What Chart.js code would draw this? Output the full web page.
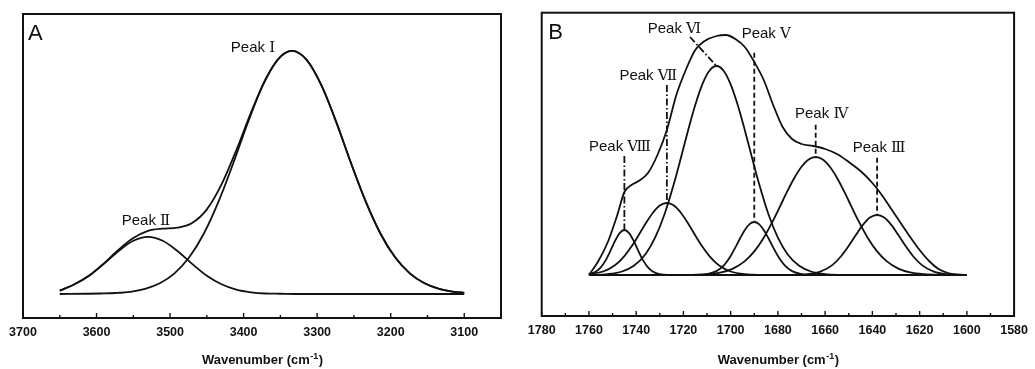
<!DOCTYPE html>
<html>
<head>
<meta charset="utf-8">
<script src="https://cdn.jsdelivr.net/npm/chart.js@4.4.1/dist/chart.umd.min.js"></script>
<style>
  html, body { margin: 0; padding: 0; background: #fff; overflow: hidden; }
  canvas { position: absolute; top: 0; }
</style>
</head>
<body>
<canvas id="chartA" width="520" height="369" style="left:0"></canvas>
<canvas id="chartB" width="515" height="369" style="left:520px"></canvas>
<script>
// ---- Panel A data (O-H / N-H stretch region) ----
const peakIX   = [3650, 3614, 3594, 3574, 3554, 3534, 3514, 3494, 3474, 3454, 3434, 3414, 3394, 3374, 3354, 3334,
                  3314, 3294, 3274, 3254, 3234, 3214, 3194, 3174, 3154, 3134, 3114, 3100];
const peakIY   = [0, 0.001, 0.002, 0.004, 0.009, 0.021, 0.044, 0.085, 0.151, 0.249, 0.381, 0.539, 0.707, 0.857, 0.962, 1.0,
                  0.962, 0.857, 0.707, 0.539, 0.381, 0.249, 0.151, 0.085, 0.044, 0.021, 0.009, 0.005];
const peakIIX  = [3650, 3630, 3610, 3590, 3570, 3550, 3530, 3510, 3490, 3470, 3450, 3430, 3410, 3390, 3370, 3350, 3330, 3100];
const peakIIY  = [0.014, 0.040, 0.075, 0.124, 0.177, 0.219, 0.235, 0.219, 0.177, 0.124, 0.075, 0.040, 0.018, 0.007, 0.002, 0.001, 0, 0];
const sumAX    = [3650, 3630, 3610, 3590, 3570, 3550, 3530, 3510, 3490, 3470, 3450, 3430, 3410, 3390, 3370, 3350, 3334,
                  3314, 3294, 3274, 3254, 3234, 3214, 3194, 3174, 3154, 3134, 3114, 3100];
const sumAY    = [0.014, 0.040, 0.076, 0.126, 0.182, 0.230, 0.260, 0.269, 0.273, 0.292, 0.348, 0.451, 0.591, 0.746, 0.885, 0.977, 1.0,
                  0.962, 0.857, 0.707, 0.539, 0.381, 0.249, 0.151, 0.085, 0.044, 0.021, 0.009, 0.005];
const peakNamesA   = ['Peak Ⅰ', 'Peak Ⅱ'];
const peakCentersA = [3334, 3530];
const peakHeightsA = [1.0, 0.235];

// ---- Panel B data (amide I region) ----
const envBX = [1760, 1756, 1752, 1748, 1745, 1742, 1739, 1735, 1731, 1727, 1723, 1719, 1715, 1711, 1706, 1702, 1698, 1694,
               1690, 1686, 1682, 1678, 1674, 1670, 1665, 1660, 1655, 1650, 1645, 1640, 1636, 1632, 1628, 1624, 1620,
               1616, 1612, 1608, 1604, 1600];
const envBY = [0, 0.14, 0.33, 0.60, 0.83, 0.90, 0.94, 1.02, 1.20, 1.45, 1.80, 2.05, 2.25, 2.34, 2.39, 2.40, 2.36, 2.28,
               2.13, 1.95, 1.70, 1.48, 1.36, 1.31, 1.29, 1.26, 1.21, 1.13, 1.04, 0.92, 0.80, 0.66, 0.52, 0.38, 0.25,
               0.14, 0.06, 0.02, 0.005, 0];
const baseBX = [1760, 1600];
const baseBY = [0, 0];
const p8X = [1760, 1757, 1755, 1753, 1751, 1749, 1747, 1745, 1743, 1741, 1739, 1737, 1735, 1733, 1730, 1725];
const p8Y = [0.008, 0.035, 0.076, 0.144, 0.237, 0.338, 0.419, 0.45, 0.419, 0.338, 0.237, 0.144, 0.076, 0.035, 0.008, 0];
const p7X = [1760, 1754, 1749, 1745, 1742, 1739, 1736, 1733, 1730, 1727, 1724, 1721, 1718, 1715, 1712, 1709, 1705, 1700, 1694, 1685];
const p7Y = [0.008, 0.035, 0.097, 0.189, 0.284, 0.397, 0.515, 0.620, 0.694, 0.72, 0.694, 0.620, 0.515, 0.397, 0.284, 0.189, 0.097, 0.035, 0.008, 0];
const p6X = [1760, 1752, 1746, 1741, 1736, 1732, 1728, 1724, 1721, 1718, 1715, 1712, 1709, 1706, 1703, 1700, 1697, 1694,
             1691, 1688, 1684, 1680, 1676, 1671, 1666, 1660, 1652];
const p6Y = [0, 0.009, 0.035, 0.092, 0.210, 0.373, 0.608, 0.915, 1.177, 1.448, 1.700, 1.907, 2.043, 2.09, 2.043, 1.907, 1.700, 1.448,
             1.177, 0.915, 0.608, 0.373, 0.210, 0.092, 0.035, 0.009, 0];
const p5X = [1715, 1710, 1706, 1703, 1700, 1698, 1696, 1694, 1692, 1690, 1688, 1686, 1684, 1682, 1680, 1677, 1674, 1670, 1665];
const p5Y = [0, 0.009, 0.039, 0.094, 0.191, 0.276, 0.367, 0.450, 0.509, 0.53, 0.509, 0.450, 0.367, 0.276, 0.191, 0.094, 0.039, 0.009, 0];
const p4X = [1719, 1710, 1704, 1699, 1694, 1690, 1686, 1682, 1679, 1676, 1673, 1670, 1667, 1664, 1661, 1658, 1655, 1652,
             1649, 1646, 1642, 1638, 1634, 1629, 1624, 1618, 1609];
const p4Y = [0, 0.008, 0.026, 0.064, 0.139, 0.236, 0.373, 0.546, 0.691, 0.838, 0.973, 1.083, 1.155, 1.18, 1.155, 1.083, 0.973, 0.838,
             0.691, 0.546, 0.373, 0.236, 0.139, 0.064, 0.026, 0.008, 0];
const p3X = [1674, 1668, 1662, 1657, 1653, 1650, 1647, 1644, 1641, 1638, 1635, 1632, 1629, 1626, 1623, 1619, 1614, 1608, 1602];
const p3Y = [0, 0.007, 0.034, 0.099, 0.195, 0.292, 0.400, 0.501, 0.574, 0.60, 0.574, 0.501, 0.400, 0.292, 0.195, 0.099, 0.034, 0.007, 0];
const peakNamesB   = ['Peak Ⅲ', 'Peak Ⅳ', 'Peak Ⅴ', 'Peak Ⅵ', 'Peak Ⅶ', 'Peak Ⅷ'];
const peakCentersB = [1638, 1664, 1690, 1706, 1727, 1745];
const peakHeightsB = [0.60, 1.18, 0.53, 2.09, 0.72, 0.45];

// ---- styling ----
const INK = '#111';
const SANS = '"Liberation Sans", Arial, sans-serif';
const SERIF = '"DejaVu Serif", "Liberation Serif", serif';

// label placement: panel A relative to the peak apex, panel B relative to plot top
const labelLayoutA = [
  { dx: -17, dy: 1, align: 'right' },
  { dx: -2, dy: -12, align: 'center' }
];
const labelLayoutB = [
  { dx: 2,   base: 139,  lineTop: 145,  dash: 'dash' },
  { dx: 6,   base: 105.3, lineTop: 112, dash: 'dash' },
  { dx: 12,  base: 25.3, lineTop: 40,   dash: 'dash' },
  { dx: -42, base: 20.3, lineTop: 24.3, lineDx: -26.5, dash: 'dashdot' },
  { dx: -18.6, base: 67.3, lineTop: 72.3, dash: 'dashdot' },
  { dx: -4.4, base: 138.3, lineTop: 143.3, dash: 'dashdot' }
];

function toPoints(xs, ys) {
  return xs.map((x, i) => ({ x: x, y: ys[i] }));
}

function curve(xs, ys) {
  return {
    data: toPoints(xs, ys),
    borderColor: INK,
    borderWidth: 1.8,
    pointRadius: 0,
    fill: false,
    cubicInterpolationMode: 'monotone'
  };
}

function drawPeakLabel(ctx, name, cx, baseY, align) {
  const parts = name.split(' ');
  ctx.font = '15px ' + SANS;
  const w1 = ctx.measureText(parts[0] + ' ').width;
  ctx.font = '15px ' + SERIF;
  const w2 = ctx.measureText(parts[1]).width;
  const total = w1 + w2;
  let left = cx - total / 2;
  if (align === 'right') left = cx - total;
  ctx.textAlign = 'left';
  ctx.textBaseline = 'alphabetic';
  ctx.font = '15px ' + SANS;
  ctx.fillText(parts[0], left, baseY);
  ctx.font = '15px ' + SERIF;
  ctx.fillText(parts[1], left + w1, baseY);
}

function makeDeco(cfg) {
  return {
    id: 'deco',
    afterDatasetsDraw(chart) {
      const { ctx, chartArea: a, scales: { x, y } } = chart;
      ctx.save();
      ctx.fillStyle = INK;
      ctx.strokeStyle = INK;

      // frame
      ctx.lineWidth = 2;
      ctx.setLineDash([]);
      ctx.strokeRect(a.left, a.top, a.right - a.left, a.bottom - a.top);

      // inward tick marks on the bottom axis
      ctx.lineWidth = 1.4;
      x.ticks.forEach(t => {
        const px = x.getPixelForValue(t.value);
        const len = t.value % cfg.major === 0 ? 5 : 3;
        ctx.beginPath();
        ctx.moveTo(px, a.bottom);
        ctx.lineTo(px, a.bottom - len);
        ctx.stroke();
      });

      // panel letter
      ctx.font = '22px ' + SANS;
      ctx.textAlign = 'left';
      ctx.textBaseline = 'alphabetic';
      ctx.fillText(cfg.letter, a.left + cfg.letterDx, a.top + cfg.letterDy);

      // peak labels and leader lines
      cfg.names.forEach((name, i) => {
        const lay = cfg.layout[i];
        const px = x.getPixelForValue(cfg.centers[i]);
        const py = y.getPixelForValue(cfg.heights[i]);
        if (lay.lineTop !== undefined) {
          ctx.lineWidth = 1.8;
          ctx.setLineDash(lay.dash === 'dash' ? [5, 3] : [7, 2.5, 1.5, 2.5]);
          ctx.beginPath();
          ctx.moveTo(px + (lay.lineDx || 0), a.top + lay.lineTop);
          ctx.lineTo(px, py);
          ctx.stroke();
          ctx.setLineDash([]);
          drawPeakLabel(ctx, name, px + lay.dx, a.top + lay.base, 'center');
        } else {
          drawPeakLabel(ctx, name, px + lay.dx, py + lay.dy, lay.align);
        }
      });

      // axis title with superscript
      const cx = (a.left + a.right) / 2;
      const by = 364;
      ctx.textAlign = 'left';
      ctx.font = 'bold 13px ' + SANS;
      const main = 'Wavenumber (cm';
      const wMain = ctx.measureText(main).width;
      ctx.font = 'bold 9px ' + SANS;
      const wSup = ctx.measureText('-1').width;
      ctx.font = 'bold 13px ' + SANS;
      const wEnd = ctx.measureText(')').width;
      const left = cx - (wMain + wSup + wEnd) / 2;
      ctx.fillText(main, left, by);
      ctx.font = 'bold 9px ' + SANS;
      ctx.fillText('-1', left + wMain + 0.5, by - 5.5);
      ctx.font = 'bold 13px ' + SANS;
      ctx.fillText(')', left + wMain + wSup + 1, by);
      ctx.restore();
    }
  };
}

function makeChart(id, datasets, opt) {
  return new Chart(document.getElementById(id), {
    type: 'line',
    data: { datasets: datasets },
    options: {
      responsive: false,
      animation: false,
      devicePixelRatio: 1,
      layout: { padding: opt.pad },
      plugins: { legend: { display: false }, tooltip: { enabled: false } },
      scales: {
        x: {
          type: 'linear',
          reverse: true,
          min: opt.xMin,
          max: opt.xMax,
          grid: { display: false, drawTicks: false },
          border: { display: false },
          ticks: {
            stepSize: opt.step,
            autoSkip: false,
            maxRotation: 0,
            minRotation: 0,
            padding: 7,
            color: INK,
            font: { family: SANS, size: 12.5, weight: 'bold' },
            callback: v => (v % opt.major === 0 ? String(v) : '')
          },
          afterFit: s => { s.height = opt.axisH; }
        },
        y: { display: false, min: opt.yMin, max: opt.yMax }
      }
    },
    plugins: [makeDeco(opt.deco)]
  });
}

makeChart('chartA', [curve(sumAX, sumAY), curve(peakIX, peakIY), curve(peakIIX, peakIIY)], {
  pad: { left: 23, right: 19, top: 14, bottom: 0 },
  xMin: 3050, xMax: 3700, step: 50, major: 100,
  yMin: -0.0988, yMax: 1.152, axisH: 51,
  deco: {
    major: 100, letter: 'A', letterDx: 5, letterDy: 26,
    names: peakNamesA, centers: peakCentersA, heights: peakHeightsA, layout: labelLayoutA
  }
});

makeChart('chartB', [
  curve(baseBX, baseBY), curve(envBX, envBY),
  curve(p8X, p8Y), curve(p7X, p7Y), curve(p6X, p6Y),
  curve(p5X, p5Y), curve(p4X, p4Y), curve(p3X, p3Y)
], {
  pad: { left: 21.7, right: 14, top: 12.7, bottom: 0 },
  xMin: 1580, xMax: 1780, step: 10, major: 20,
  yMin: -0.41, yMax: 2.623, axisH: 53,
  deco: {
    major: 20, letter: 'B', letterDx: 6.5, letterDy: 25.8,
    names: peakNamesB, centers: peakCentersB, heights: peakHeightsB, layout: labelLayoutB
  }
});
</script>
</body>
</html>
